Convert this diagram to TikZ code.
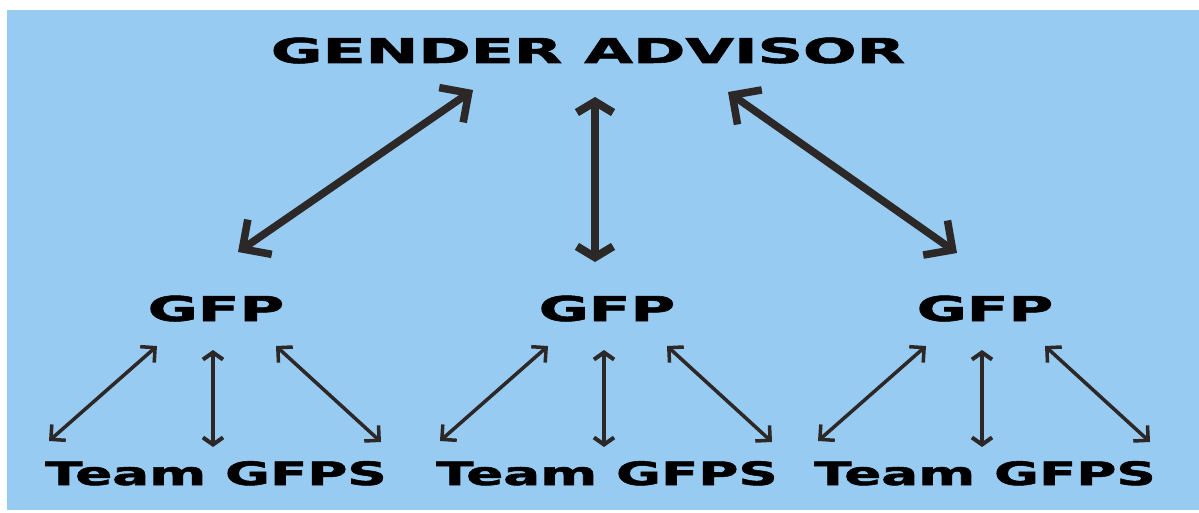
\documentclass[tikz,border=0pt]{standalone}
\usepackage{fontspec}
\setmainfont{DejaVu Sans}
\newfontfamily\heavyfont[FakeBold=1.6]{DejaVu Sans Bold}
\usepackage{tikz}
\usetikzlibrary{arrows.meta}
\definecolor{bgblue}{RGB}{152,203,241}
\definecolor{arrowgray}{RGB}{45,40,40}
\tikzset{
advisor/.style={font=\heavyfont\fontsize{19.5}{23}\selectfont, anchor=base, inner sep=0pt, transform shape, xscale=1.84},
gfp/.style={font=\heavyfont\fontsize{19.5}{23}\selectfont, anchor=base, inner sep=0pt, transform shape, xscale=1.78},
team/.style={font=\heavyfont\fontsize{18.3}{22}\selectfont, anchor=base, inner sep=0pt, transform shape, xscale=1.70},
bigdiag/.style={draw=arrowgray, line width=4.3pt, {Straight Barb[angle=90:17pt]}-{Straight Barb[angle=90:17pt]}},
bigvert/.style={draw=arrowgray, line width=4.6pt, {Straight Barb[angle=118:12pt]}-{Straight Barb[angle=118:12pt]}},
smalldiag/.style={draw=arrowgray, line width=2pt, {Straight Barb[angle=90:8.5pt]}-{Straight Barb[angle=90:8.5pt]}},
smallvert/.style={draw=arrowgray, line width=2.3pt, {Straight Barb[angle=110:7pt]}-{Straight Barb[angle=110:7pt]}}
}

\begin{document}
\begin{tikzpicture}[x=0.02cm,y=-0.02cm]
\useasboundingbox (0,0) rectangle (1199,513);
\fill [bgblue] (7,10) rectangle (1199,510);
\node [advisor] (ga) at (588,63) {GENDER ADVISOR};
\foreach \i/\x in {1/216,2/607,3/985}
{
\node [gfp] (gfp\i) at (\x,321) {GFP};
\node [team] (team\i) at (\x,485) {Team GFPS};
}
\draw [bigdiag] ([shift={(-115,27)}]ga.base) -- ([shift={(22,-69)}]gfp1.base);
\draw [bigvert] ([shift={(7,34)}]ga.base) -- ([shift={(-12,-59)}]gfp2.base);
\draw [bigdiag] ([shift={(140,29)}]ga.base) -- ([shift={(-28,-68)}]gfp3.base);
\foreach \i in {1,2,3}
{
\draw [smalldiag] ([shift={(-59,25)}]gfp\i.base) -- ([shift={(-167,-44)}]team\i.base);
\draw [smallvert] ([shift={(-3,29)}]gfp\i.base) -- ([shift={(-3,-38)}]team\i.base);
\draw [smalldiag] ([shift={(60,25)}]gfp\i.base) -- ([shift={(165,-43)}]team\i.base);
}
\end{tikzpicture}
\end{document}
